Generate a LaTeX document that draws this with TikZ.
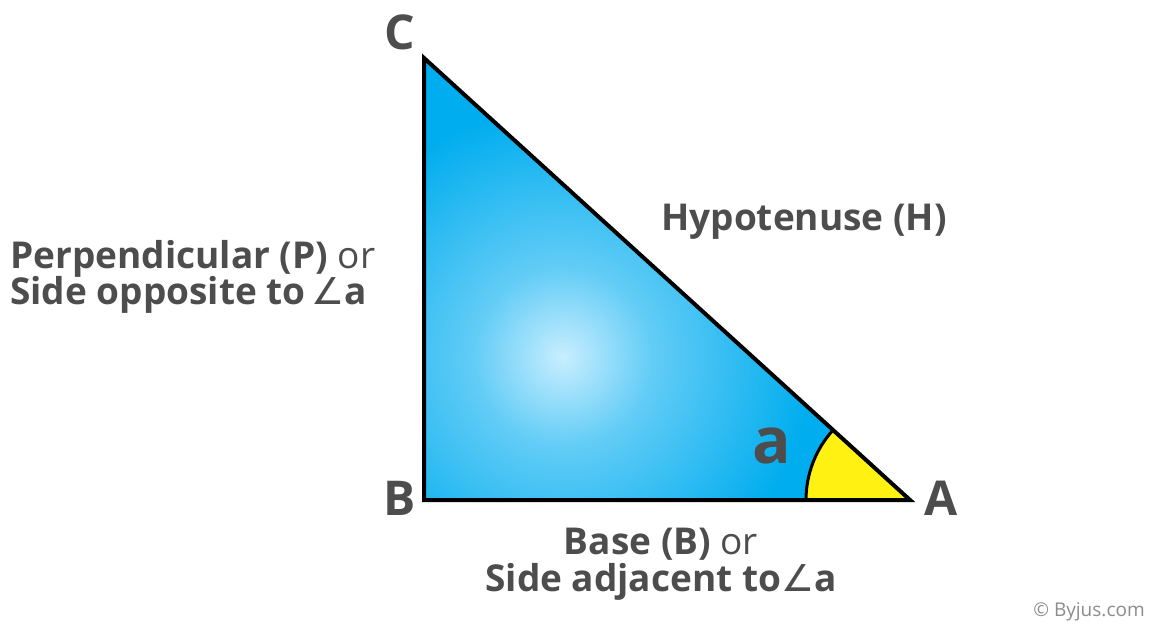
\documentclass[tikz,border=0pt]{standalone}
\usepackage{fontspec}
\setmainfont{Open Sans}
\newfontfamily\symf{DejaVu Sans}
\definecolor{txt}{HTML}{4D4D4D}
\definecolor{cyanout}{HTML}{00ADEE}
\definecolor{cyanmid}{HTML}{62CCF6}
\definecolor{cyanin}{HTML}{C8EEFE}
\definecolor{angyellow}{HTML}{FFF212}
\definecolor{copy}{HTML}{8C8C8C}
\pgfdeclareradialshading{glow}{\pgfpoint{0bp}{0bp}}{color(0bp)=(cyanin); color(9bp)=(cyanmid); color(25bp)=(cyanout); color(50bp)=(cyanout)}
\tikzset{
  lbl/.style={text=txt, inner sep=0pt, font=\bfseries\fontsize{37}{40}\selectfont},
  vtx/.style={text=txt, inner sep=0pt, font=\bfseries\fontsize{48}{50}\selectfont},
  edge/.style={draw=black, line width=4pt, line join=miter},
}
\newcommand{\orw}{\mdseries\ or}
\newcommand{\angs}{{\symf\mdseries ∠}}
\begin{document}
\begin{tikzpicture}[x=1pt,y=1pt]
\useasboundingbox (0,0) rectangle (1150,630);
\coordinate (B) at (424,130);
\coordinate (C) at (424,572);
\coordinate (A) at (910,130);
% gradient fill
\fill[cyanout] (B) -- (C) -- (A) -- cycle;
\begin{scope}
  \clip (B) -- (C) -- (A) -- cycle;
  \shade[shading=glow] (563,273) circle (250);
\end{scope}
% angle sector
\fill[angyellow] (A) -- ++(180:104) arc[start angle=180, end angle=137.7, radius=104] -- cycle;
\draw[line width=3pt] (A) ++(180:104) arc[start angle=180, end angle=137.7, radius=104];
% triangle
\draw[edge] (B) -- (C) -- (A) -- cycle;
% vertex labels
\node[vtx, anchor=base] (lC) at (400,580) {C};
\node[vtx, anchor=base] (lB) at (400,115) {B};
\node[vtx, anchor=base] (lA) at (941,115) {A};
\node[text=txt, inner sep=0pt, font=\bfseries\fontsize{64}{66}\selectfont, anchor=base] (la) at (772,167) {a};
% side labels
\node[lbl, anchor=base] (hyp) at (804,399) {Hypotenuse (H)};
\node[lbl, anchor=base west] (perp1) at (10,361) {Perpendicular (P)\orw};
\node[lbl, anchor=base west] (perp2) at (10,326) {Side opposite to\,\angs a};
\node[lbl, anchor=base] (base1) at (661,76) {Base (B)\orw};
\node[lbl, anchor=base] (base2) at (661,39) {Side adjacent to\angs a};
\node[text=copy, inner sep=0pt, font=\fontsize{19}{21}\selectfont, anchor=base] (cp) at (1089,14) {© Byjus.com};
\end{tikzpicture}
\end{document}
